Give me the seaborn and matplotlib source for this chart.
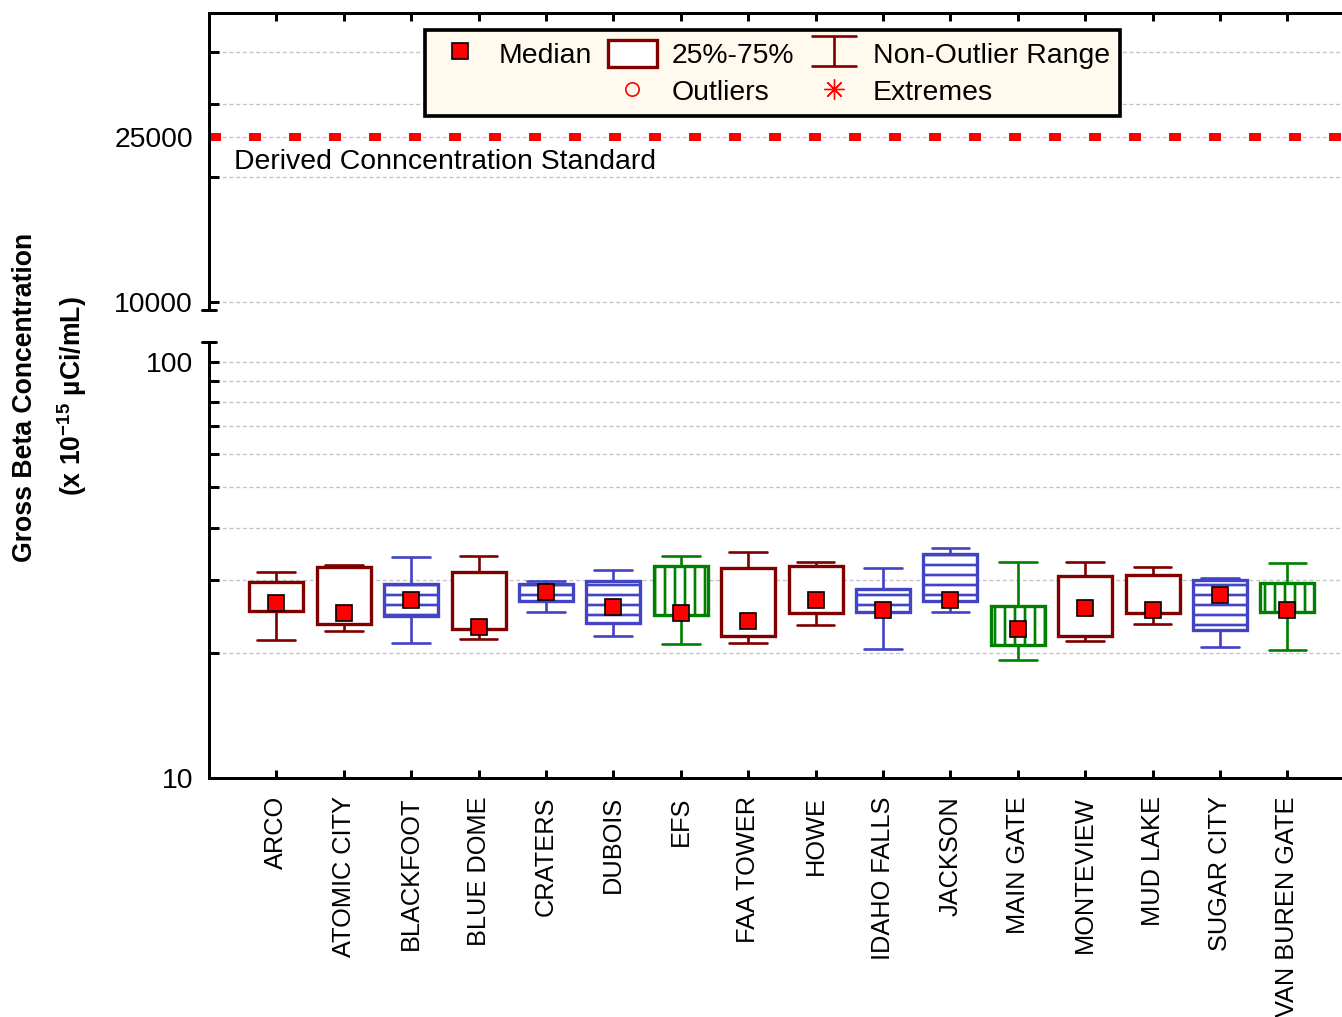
import numpy as np
import pandas as pd
import matplotlib
matplotlib.use("Agg")
import matplotlib.pyplot as plt
from matplotlib.lines import Line2D
from matplotlib.patches import Patch
from matplotlib.path import Path
from matplotlib.ticker import NullLocator
import seaborn as sns

# data (x 10^-15 uCi/mL)
stations = ["ARCO", "ATOMIC CITY", "BLACKFOOT", "BLUE DOME", "CRATERS", "DUBOIS",
            "EFS", "FAA TOWER", "HOWE", "IDAHO FALLS", "JACKSON", "MAIN GATE",
            "MONTEVIEW", "MUD LAKE", "SUGAR CITY", "VAN BUREN GATE"]
groups = ["boundary", "boundary", "distant", "boundary", "distant", "distant",
          "onsite", "boundary", "boundary", "distant", "distant", "onsite",
          "boundary", "boundary", "distant", "onsite"]
whisker_low = [21.5, 22.5, 21.1, 21.6, 25.0, 22.0, 21.0, 21.1, 23.3, 20.4, 25.0, 19.2, 21.4, 23.5, 20.7, 20.3]
q1 = [25.2, 23.5, 24.5, 22.8, 26.6, 23.6, 24.7, 22.0, 24.9, 25.0, 26.6, 20.9, 22.0, 24.9, 22.7, 25.0]
median = [26.4, 24.9, 26.8, 23.1, 28.0, 25.7, 24.9, 23.8, 26.8, 25.3, 26.8, 22.8, 25.6, 25.3, 27.6, 25.3]
q3 = [29.6, 32.2, 29.2, 31.3, 29.3, 29.8, 32.4, 31.9, 32.3, 28.4, 34.5, 25.9, 30.6, 30.8, 29.9, 29.4]
whisker_high = [31.2, 32.5, 33.9, 34.2, 29.8, 31.7, 34.2, 35.0, 33.1, 32.0, 35.7, 33.0, 33.0, 32.2, 30.3, 32.8]
dcs_value = 25000
dcs_label = "Derived Conncentration Standard"

group_colors = {"boundary": "#800000", "distant": "#4343C6", "onsite": "#008000"}
group_hatch = {"boundary": "", "distant": "--", "onsite": "||"}

df = pd.DataFrame({
    "station": np.repeat(stations, 5),
    "value": np.column_stack([whisker_low, q1, median, q3, whisker_high]).ravel(),
})
palette = {s: group_colors[g] for s, g in zip(stations, groups)}

sns.set_style("ticks")
plt.rcParams["font.family"] = ["Liberation Sans", "DejaVu Sans"]
plt.rcParams["text.color"] = "black"
plt.rcParams["xtick.color"] = "black"
plt.rcParams["ytick.color"] = "black"
plt.rcParams["axes.edgecolor"] = "black"
plt.rcParams["hatch.linewidth"] = 1.6
plt.rcParams["mathtext.fontset"] = "custom"
plt.rcParams["mathtext.rm"] = "Liberation Sans"
plt.rcParams["mathtext.bf"] = "Liberation Sans:bold"

fig = plt.figure(figsize=(1342 / 120, 1017 / 120), dpi=120)
ax_hi = fig.add_axes([0.1557, 0.6952, 0.8443, 0.292])
ax_lo = fig.add_axes([0.1557, 0.235, 0.8443, 0.4287])

# lower panel: box plots
sns.boxplot(data=df, x="station", y="value", hue="station", order=stations,
            hue_order=stations, palette=palette, width=0.8, whis=np.inf,
            log_scale=True, legend=False, ax=ax_lo, linewidth=1.8,
            capwidths=0.56)
for cont, grp in zip(ax_lo.containers, groups):
    c = group_colors[grp]
    for box in cont.boxes:
        box.set_facecolor("white")
        box.set_edgecolor(c)
        box.set_linewidth(2.0)
        box.set_hatch(group_hatch[grp])
        if hasattr(box, "set_hatchcolor"):
            box.set_hatchcolor(c)
    for ln in list(cont.whiskers) + list(cont.caps):
        ln.set_color(c)
        ln.set_linewidth(1.6)
    for ln in cont.medians:
        ln.set_visible(False)

sns.pointplot(x=stations, y=median, order=stations, color="red", marker="s",
              linestyle="none", markersize=9.5, markeredgecolor="black",
              markeredgewidth=1.0, errorbar=None, ax=ax_lo, zorder=10)

ax_lo.set_xlim(-1, 15.81)
ax_lo.set_ylim(10, 111.7)
ax_lo.set_yticks([10, 20, 30, 40, 50, 60, 70, 80, 90, 100],
                 ["10", "", "", "", "", "", "", "", "", "100"])
ax_lo.yaxis.set_minor_locator(NullLocator())
ax_lo.set_xlabel("")
ax_lo.set_ylabel("")
ax_lo.tick_params(axis="x", rotation=90, direction="in", length=5, width=1.8,
                  pad=11, labelsize=15.2)
ax_lo.tick_params(axis="y", direction="in", length=6, width=1.8, pad=9.6,
                  labelsize=17)
ax_lo.grid(axis="y", color="#c4c4c4", linewidth=0.8, linestyle=(0, (3, 2)))
ax_lo.set_axisbelow(True)
for side in ["top", "right"]:
    ax_lo.spines[side].set_visible(False)
for side in ["left", "bottom"]:
    ax_lo.spines[side].set_linewidth(1.8)
ax_lo.plot([-0.006, 0.006], [1, 1], transform=ax_lo.transAxes, color="black",
           lw=1.8, clip_on=False)

# upper panel: standard line
ax_hi.set_yscale("log")
ax_hi.set_xlim(-1, 15.81)
ax_hi.set_ylim(9566, 49700)
ax_hi.axhline(dcs_value, color="red", lw=4.8, linestyle=(0, (1.5, 3.5)))
ax_hi.text(0.022, 21700, dcs_label, fontsize=17, va="center",
           transform=ax_hi.get_yaxis_transform())
ax_hi.set_yticks([10000, 20000, 25000, 30000, 40000],
                 ["10000", "", "25000", "", ""])
ax_hi.yaxis.set_minor_locator(NullLocator())
ax_hi.set_xticks(range(len(stations)))
ax_hi.tick_params(axis="x", top=True, bottom=False, labelbottom=False,
                  direction="in", length=5, width=1.8)
ax_hi.tick_params(axis="y", direction="in", length=6, width=1.8, pad=9.6,
                  labelsize=17)
ax_hi.grid(axis="y", color="#c4c4c4", linewidth=0.8, linestyle=(0, (3, 2)))
ax_hi.set_axisbelow(True)
for side in ["bottom", "right"]:
    ax_hi.spines[side].set_visible(False)
for side in ["left", "top"]:
    ax_hi.spines[side].set_linewidth(1.8)
ax_hi.plot([-0.006, 0.006], [0, 0], transform=ax_hi.transAxes, color="black",
           lw=1.8, clip_on=False)

# legend
cap_path = Path([(-1, 0.65), (1, 0.65), (0, 0.65), (0, -0.65), (-1, -0.65), (1, -0.65)],
                [Path.MOVETO, Path.LINETO, Path.MOVETO, Path.LINETO, Path.MOVETO, Path.LINETO])
handles = [
    Line2D([], [], ls="none", marker="s", ms=9.5, mfc="red", mec="black", label="Median"),
    Line2D([], [], ls="none", label=""),
    Patch(facecolor="white", edgecolor="#800000", lw=2.0, label="25%-75%"),
    Line2D([], [], ls="none", marker="o", ms=8, mfc="none", mec="red", mew=1.0, label="Outliers"),
    Line2D([], [], ls="none", marker=cap_path, ms=28, mec="#800000", mew=1.6, label="Non-Outlier Range"),
    Line2D([], [], ls="none", marker=(8, 2, 0), ms=12, mec="red", mew=0.8, label="Extremes"),
]
leg = ax_hi.legend(handles=handles, ncol=3, loc="upper center",
                   bbox_to_anchor=(772.5 / 1342, 1 - 30 / 1017),
                   bbox_transform=fig.transFigure, fontsize=17, frameon=True,
                   fancybox=False, framealpha=1, facecolor="#FFF9EE",
                   edgecolor="black", handlelength=1.75, handleheight=1.07,
                   handletextpad=0.5, columnspacing=0.55, labelspacing=0.3,
                   borderpad=0.35, borderaxespad=0)
leg.get_frame().set_linewidth(2.2)

fig.text(25 / 1342, 1 - 397 / 1017, "Gross Beta Concentration", rotation=90,
         fontsize=16, fontweight="bold", ha="center", va="center")
fig.text(72 / 1342, 1 - 396 / 1017, r"(x 10$^{\mathbf{-15}}$ µCi/mL)", rotation=90,
         fontsize=16, fontweight="bold", ha="center", va="center")

fig.savefig("out.png", dpi=120)
